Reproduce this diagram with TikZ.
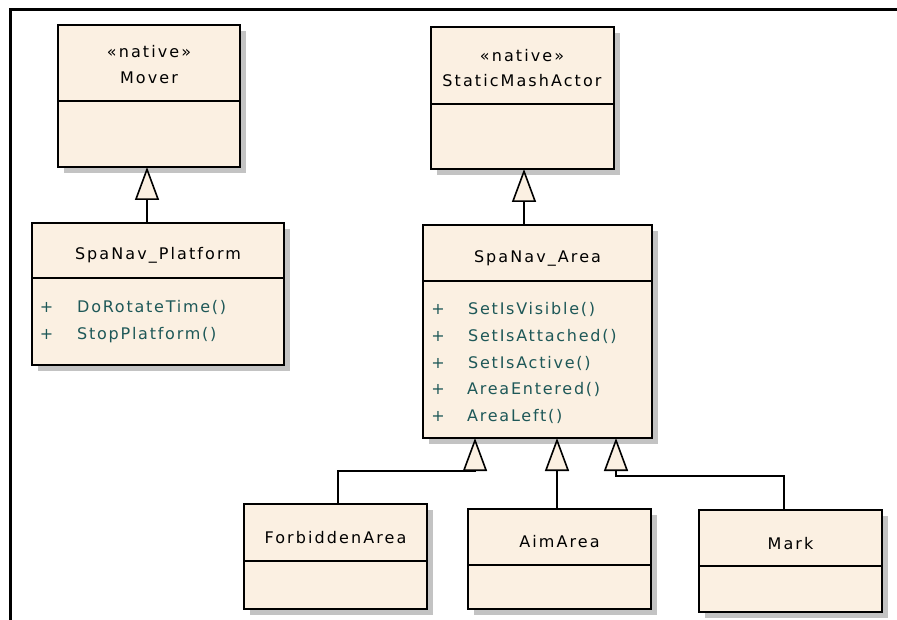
\documentclass[tikz,border=0pt]{standalone}
\usepackage{fontspec}
\newfontfamily\umlfont[LetterSpace=13]{DejaVu Sans}
\newfontfamily\umlopfont[LetterSpace=11]{DejaVu Sans}
\usetikzlibrary{arrows.meta,shadows}
\definecolor{classfill}{RGB}{251,240,226}
\definecolor{opcolor}{RGB}{30,88,88}
\definecolor{shadowgray}{RGB}{195,195,195}

\begin{document}
\begin{tikzpicture}[x=1pt,y=-1pt,
  cls/.style={draw, line width=2pt, fill=classfill, anchor=north west,
    outer sep=0pt, inner sep=0pt,
    drop shadow={shadow xshift=6pt, shadow yshift=-6pt, fill=shadowgray, opacity=1}},
  divider/.style={line width=1.7pt},
  umltext/.style={inner sep=0pt, font=\umlfont\fontsize{16pt}{19pt}\selectfont},
  lbl/.style={umltext, anchor=base},
  op/.style={inner sep=0pt, anchor=base west, text=opcolor,
    font=\umlopfont\fontsize{16pt}{19pt}\selectfont},
  plus/.style={umltext, anchor=base, text=opcolor},
  gen/.style={line width=1.6pt, -{Triangle[open, length=33pt, width=24pt, fill=classfill, line width=1.6pt]}}
]
\useasboundingbox (0,0) rectangle (897,620);

% outer frame
\draw[line width=3pt] (10,620) -- (10,10) -- (897,10);

% class boxes
\node[cls, minimum width=182pt, minimum height=142pt] (mover) at (58,25) {};
\node[cls, minimum width=183pt, minimum height=142pt] (sma) at (431,27) {};
\node[cls, minimum width=252pt, minimum height=142pt] (plat) at (32,223) {};
\node[cls, minimum width=229pt, minimum height=213pt] (area) at (423,225) {};
\node[cls, minimum width=183pt, minimum height=105pt] (forb) at (244,504) {};
\node[cls, minimum width=183pt, minimum height=100pt] (aim) at (468,509) {};
\node[cls, minimum width=183pt, minimum height=102pt] (mark) at (699,510) {};

% compartment dividers
\draw[divider] (mover.west |- 0,101) -- (mover.east |- 0,101);
\draw[divider] (sma.west |- 0,104) -- (sma.east |- 0,104);
\draw[divider] (plat.west |- 0,278) -- (plat.east |- 0,278);
\draw[divider] (area.west |- 0,281) -- (area.east |- 0,281);
\draw[divider] (forb.west |- 0,561) -- (forb.east |- 0,561);
\draw[divider] (aim.west |- 0,565) -- (aim.east |- 0,565);
\draw[divider] (mark.west |- 0,566) -- (mark.east |- 0,566);

% class names
\node[lbl] (moverst) at (149,57.5) {«native»};
\node[lbl] (movername) at (149,84) {Mover};
\node[lbl] (smast) at (522,61.5) {«native»};
\node[lbl] (smaname) at (522,87) {StaticMashActor};
\node[lbl] (platname) at (158,260) {SpaNav\_Platform};
\node[lbl] (areaname) at (537.5,263) {SpaNav\_Area};
\node[lbl] (forbname) at (335.5,543) {ForbiddenArea};
\node[lbl] (aimname) at (559.5,547) {AimArea};
\node[lbl] (markname) at (790.5,549) {Mark};

% operations
\node[plus] (pp1) at (46.5,313) {+};
\node[op] (po1) at (77,313) {DoRotateTime()};
\node[plus] (pp2) at (46.5,339) {+};
\node[op] (po2) at (77,339) {StopPlatform()};

\node[plus] (ap1) at (438,315) {+};
\node[op] (ao1) at (468,315) {SetIsVisible()};
\node[plus] (ap2) at (438,341.5) {+};
\node[op] (ao2) at (468,341.5) {SetIsAttached()};
\node[plus] (ap3) at (438,368) {+};
\node[op] (ao3) at (468,368) {SetIsActive()};
\node[plus] (ap4) at (438,394.5) {+};
\node[op] (ao4) at (467,394.5) {AreaEntered()};
\node[plus] (ap5) at (438,421) {+};
\node[op] (ao5) at (467,421) {AreaLeft()};

% generalisations
\coordinate (g1) at (147,0);
\coordinate (g2) at (524,0);
\coordinate (g3) at (338,0);
\coordinate (g3b) at (475,471);
\coordinate (g4) at (557,0);
\coordinate (g5) at (784,0);
\coordinate (g5b) at (616,476);

\draw[gen] (plat.north -| g1) -- (mover.south -| g1);
\draw[gen] (area.north -| g2) -- (sma.south -| g2);
\draw[gen] (forb.north -| g3) |- (g3b) -- (area.south -| g3b);
\draw[gen] (aim.north -| g4) -- (area.south -| g4);
\draw[gen] (mark.north -| g5) |- (g5b) -- (area.south -| g5b);
\end{tikzpicture}
\end{document}
